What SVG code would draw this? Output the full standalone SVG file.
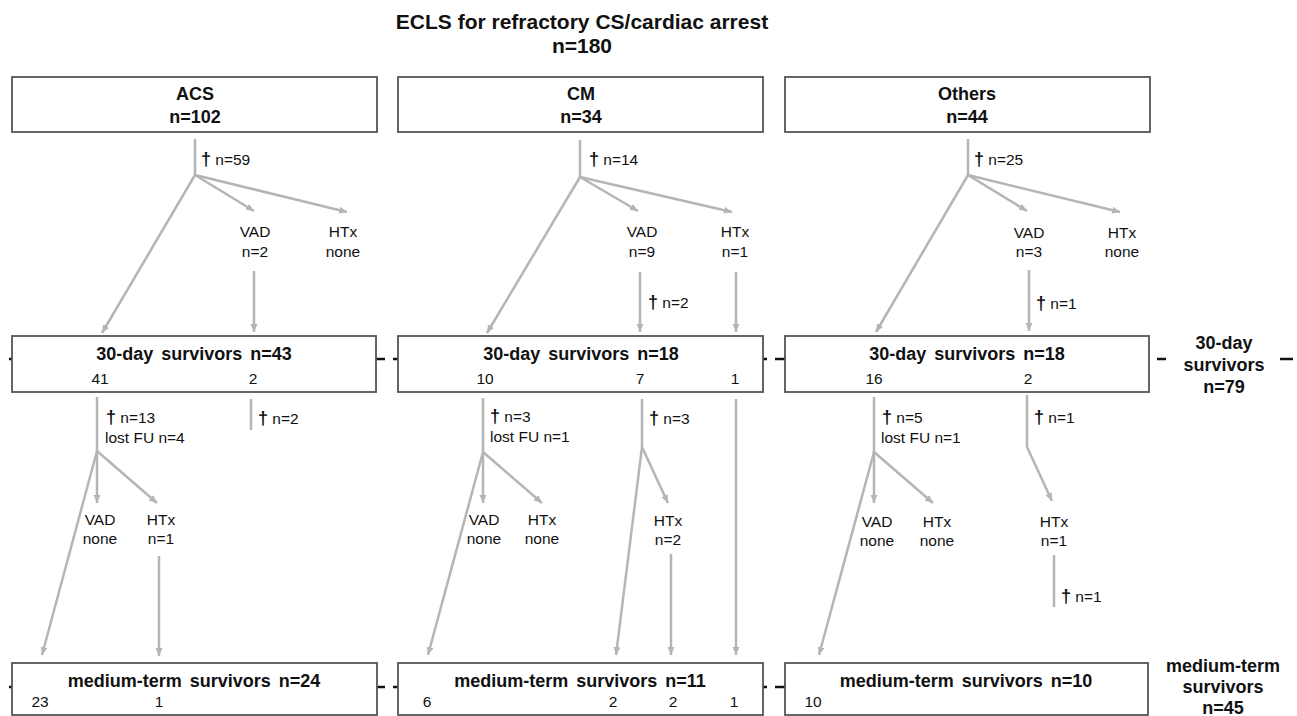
<svg xmlns="http://www.w3.org/2000/svg" width="1297" height="716" viewBox="0 0 1297 716">
<style>
text{font-family:"Liberation Sans",Arial,Helvetica,sans-serif;fill:#111}
.t{font-size:21px;font-weight:bold;text-anchor:middle}
.h{font-size:18px;font-weight:bold;text-anchor:middle;word-spacing:3px}
.l{font-size:15.5px;text-anchor:middle}
.s{font-size:15.5px}
.dg{font-size:18px;font-weight:bold}
.box{fill:#fff;stroke:#555;stroke-width:1.8}
.c line{stroke:#b5b5b5;stroke-width:2.5}
.c line.a{marker-end:url(#ah)}
.d line{stroke:#111;stroke-width:2.5}
</style>
<defs>
<marker id="ah" markerUnits="userSpaceOnUse" markerWidth="9" markerHeight="8" refX="8" refY="3.5" orient="auto">
<path d="M0,0 L8,3.5 L0,7 z" fill="#b5b5b5"/>
</marker>
</defs>

<g id="title">
<text class="t" x="582" y="29">ECLS for refractory CS/cardiac arrest</text>
<text class="t" x="582" y="53">n=180</text>
</g>

<g id="dashes" class="d">
<line x1="9" y1="359" x2="12" y2="359"/>
<line x1="376" y1="359" x2="385" y2="359"/>
<line x1="393" y1="359" x2="398" y2="359"/>
<line x1="763" y1="359" x2="767" y2="359"/>
<line x1="775" y1="359" x2="785" y2="359"/>
<line x1="1157" y1="359" x2="1166" y2="359"/>
<line x1="1280" y1="359" x2="1293" y2="359"/>
<line x1="9" y1="687" x2="12" y2="687"/>
<line x1="376" y1="687" x2="385" y2="687"/>
<line x1="393" y1="687" x2="398" y2="687"/>
<line x1="763" y1="687" x2="767" y2="687"/>
<line x1="775" y1="687" x2="785" y2="687"/>
</g>

<g id="connectors" class="c">
<line x1="195" y1="139" x2="195" y2="175"/>
<line class="a" x1="195" y1="175" x2="102" y2="333"/>
<line class="a" x1="195" y1="175" x2="254" y2="211"/>
<line class="a" x1="195" y1="175" x2="347" y2="212"/>
<line class="a" x1="254" y1="271" x2="254" y2="332"/>
<line x1="97" y1="397" x2="97" y2="451"/>
<line class="a" x1="97" y1="451" x2="42" y2="655"/>
<line class="a" x1="97" y1="451" x2="97" y2="503"/>
<line class="a" x1="97" y1="451" x2="157" y2="503"/>
<line class="a" x1="159" y1="556" x2="159" y2="656"/>
<line x1="251" y1="399" x2="251" y2="430"/>

<line x1="580" y1="140" x2="580" y2="177"/>
<line class="a" x1="580" y1="177" x2="487" y2="333"/>
<line class="a" x1="580" y1="177" x2="638" y2="211"/>
<line class="a" x1="580" y1="177" x2="732" y2="212"/>
<line class="a" x1="640" y1="272" x2="640" y2="332"/>
<line class="a" x1="736" y1="272" x2="736" y2="332"/>
<line x1="483" y1="398" x2="483" y2="452"/>
<line class="a" x1="483" y1="452" x2="428" y2="655"/>
<line class="a" x1="483" y1="452" x2="483" y2="503"/>
<line class="a" x1="483" y1="452" x2="542" y2="503"/>
<line x1="642" y1="399" x2="642" y2="447"/>
<line class="a" x1="642" y1="447" x2="616" y2="655"/>
<line class="a" x1="642" y1="447" x2="668" y2="503"/>
<line class="a" x1="671" y1="554" x2="671" y2="655"/>
<line class="a" x1="736" y1="399" x2="736" y2="655"/>

<line x1="968" y1="139" x2="968" y2="175"/>
<line class="a" x1="968" y1="175" x2="876" y2="332"/>
<line class="a" x1="968" y1="175" x2="1027" y2="211"/>
<line class="a" x1="968" y1="175" x2="1120" y2="212"/>
<line class="a" x1="1029" y1="270" x2="1029" y2="331"/>
<line x1="874" y1="397" x2="874" y2="452"/>
<line class="a" x1="874" y1="452" x2="819" y2="655"/>
<line class="a" x1="874" y1="452" x2="874" y2="503"/>
<line class="a" x1="874" y1="452" x2="933" y2="503"/>
<line x1="1027" y1="395" x2="1027" y2="447"/>
<line class="a" x1="1027" y1="447" x2="1052" y2="501"/>
<line x1="1054" y1="555" x2="1054" y2="607"/>
</g>

<g id="acs">
<rect class="box" x="12" y="77" width="365" height="55"/>
<text class="h" x="195" y="100">ACS</text>
<text class="h" x="195" y="123">n=102</text>
</g>
<g id="cm">
<rect class="box" x="398" y="77" width="365" height="55"/>
<text class="h" x="581" y="100">CM</text>
<text class="h" x="581" y="123">n=34</text>
</g>
<g id="others">
<rect class="box" x="785" y="77" width="365" height="55"/>
<text class="h" x="967" y="100">Others</text>
<text class="h" x="967" y="123">n=44</text>
</g>

<g id="acs-labels">
<text class="s" x="201" y="165"><tspan class="dg">†</tspan> n=59</text>
<text class="l" x="255" y="237">VAD</text><text class="l" x="255" y="257">n=2</text>
<text class="l" x="343" y="237">HTx</text><text class="l" x="343" y="257">none</text>
<text class="s" x="106" y="423"><tspan class="dg">†</tspan> n=13</text>
<text class="s" x="105" y="443">lost FU n=4</text>
<text class="s" x="258" y="424"><tspan class="dg">†</tspan> n=2</text>
<text class="l" x="100" y="525">VAD</text><text class="l" x="100" y="544">none</text>
<text class="l" x="161" y="525">HTx</text><text class="l" x="161" y="544">n=1</text>
</g>
<g id="cm-labels">
<text class="s" x="589" y="165"><tspan class="dg">†</tspan> n=14</text>
<text class="l" x="642" y="237">VAD</text><text class="l" x="642" y="257">n=9</text>
<text class="l" x="735" y="237">HTx</text><text class="l" x="735" y="257">n=1</text>
<text class="s" x="648" y="308"><tspan class="dg">†</tspan> n=2</text>
<text class="s" x="490" y="422"><tspan class="dg">†</tspan> n=3</text>
<text class="s" x="490" y="442">lost FU n=1</text>
<text class="s" x="649" y="424"><tspan class="dg">†</tspan> n=3</text>
<text class="l" x="484" y="525">VAD</text><text class="l" x="484" y="544">none</text>
<text class="l" x="542" y="525">HTx</text><text class="l" x="542" y="544">none</text>
<text class="l" x="668" y="526">HTx</text><text class="l" x="668" y="545">n=2</text>
</g>
<g id="others-labels">
<text class="s" x="974" y="165"><tspan class="dg">†</tspan> n=25</text>
<text class="l" x="1029" y="238">VAD</text><text class="l" x="1029" y="257">n=3</text>
<text class="l" x="1122" y="238">HTx</text><text class="l" x="1122" y="257">none</text>
<text class="s" x="1036" y="309"><tspan class="dg">†</tspan> n=1</text>
<text class="s" x="882" y="423"><tspan class="dg">†</tspan> n=5</text>
<text class="s" x="881" y="443">lost FU n=1</text>
<text class="s" x="1034" y="423"><tspan class="dg">†</tspan> n=1</text>
<text class="l" x="877" y="527">VAD</text><text class="l" x="877" y="546">none</text>
<text class="l" x="937" y="527">HTx</text><text class="l" x="937" y="546">none</text>
<text class="l" x="1054" y="527">HTx</text><text class="l" x="1054" y="546">n=1</text>
<text class="s" x="1061" y="602"><tspan class="dg">†</tspan> n=1</text>
</g>

<g id="acs-30">
<rect class="box" x="12" y="336" width="364" height="56"/>
<text class="h" x="194" y="360">30-day survivors n=43</text>
<text class="l" x="100" y="384">41</text>
<text class="l" x="253" y="384">2</text>
</g>
<g id="cm-30">
<rect class="box" x="398" y="336" width="365" height="56"/>
<text class="h" x="581" y="360">30-day survivors n=18</text>
<text class="l" x="485" y="384">10</text>
<text class="l" x="640" y="384">7</text>
<text class="l" x="735" y="384">1</text>
</g>
<g id="others-30">
<rect class="box" x="785" y="336" width="364" height="56"/>
<text class="h" x="967" y="360">30-day survivors n=18</text>
<text class="l" x="874" y="384">16</text>
<text class="l" x="1028" y="384">2</text>
</g>

<g id="acs-mt">
<rect class="box" x="12" y="663" width="365" height="52"/>
<text class="h" x="194" y="687">medium-term survivors n=24</text>
<text class="l" x="40" y="707">23</text>
<text class="l" x="159" y="707">1</text>
</g>
<g id="cm-mt">
<rect class="box" x="398" y="663" width="365" height="52"/>
<text class="h" x="580" y="687">medium-term survivors n=11</text>
<text class="l" x="427" y="707">6</text>
<text class="l" x="613" y="707">2</text>
<text class="l" x="673" y="707">2</text>
<text class="l" x="734" y="707">1</text>
</g>
<g id="others-mt">
<rect class="box" x="785" y="663" width="363" height="52"/>
<text class="h" x="966" y="687">medium-term survivors n=10</text>
<text class="l" x="813" y="707">10</text>
</g>

<g id="total-30">
<text class="h" x="1224" y="349">30-day</text>
<text class="h" x="1224" y="371">survivors</text>
<text class="h" x="1224" y="393">n=79</text>
</g>
<g id="total-mt">
<text class="h" x="1223" y="672">medium-term</text>
<text class="h" x="1223" y="693">survivors</text>
<text class="h" x="1223" y="714">n=45</text>
</g>
</svg>
